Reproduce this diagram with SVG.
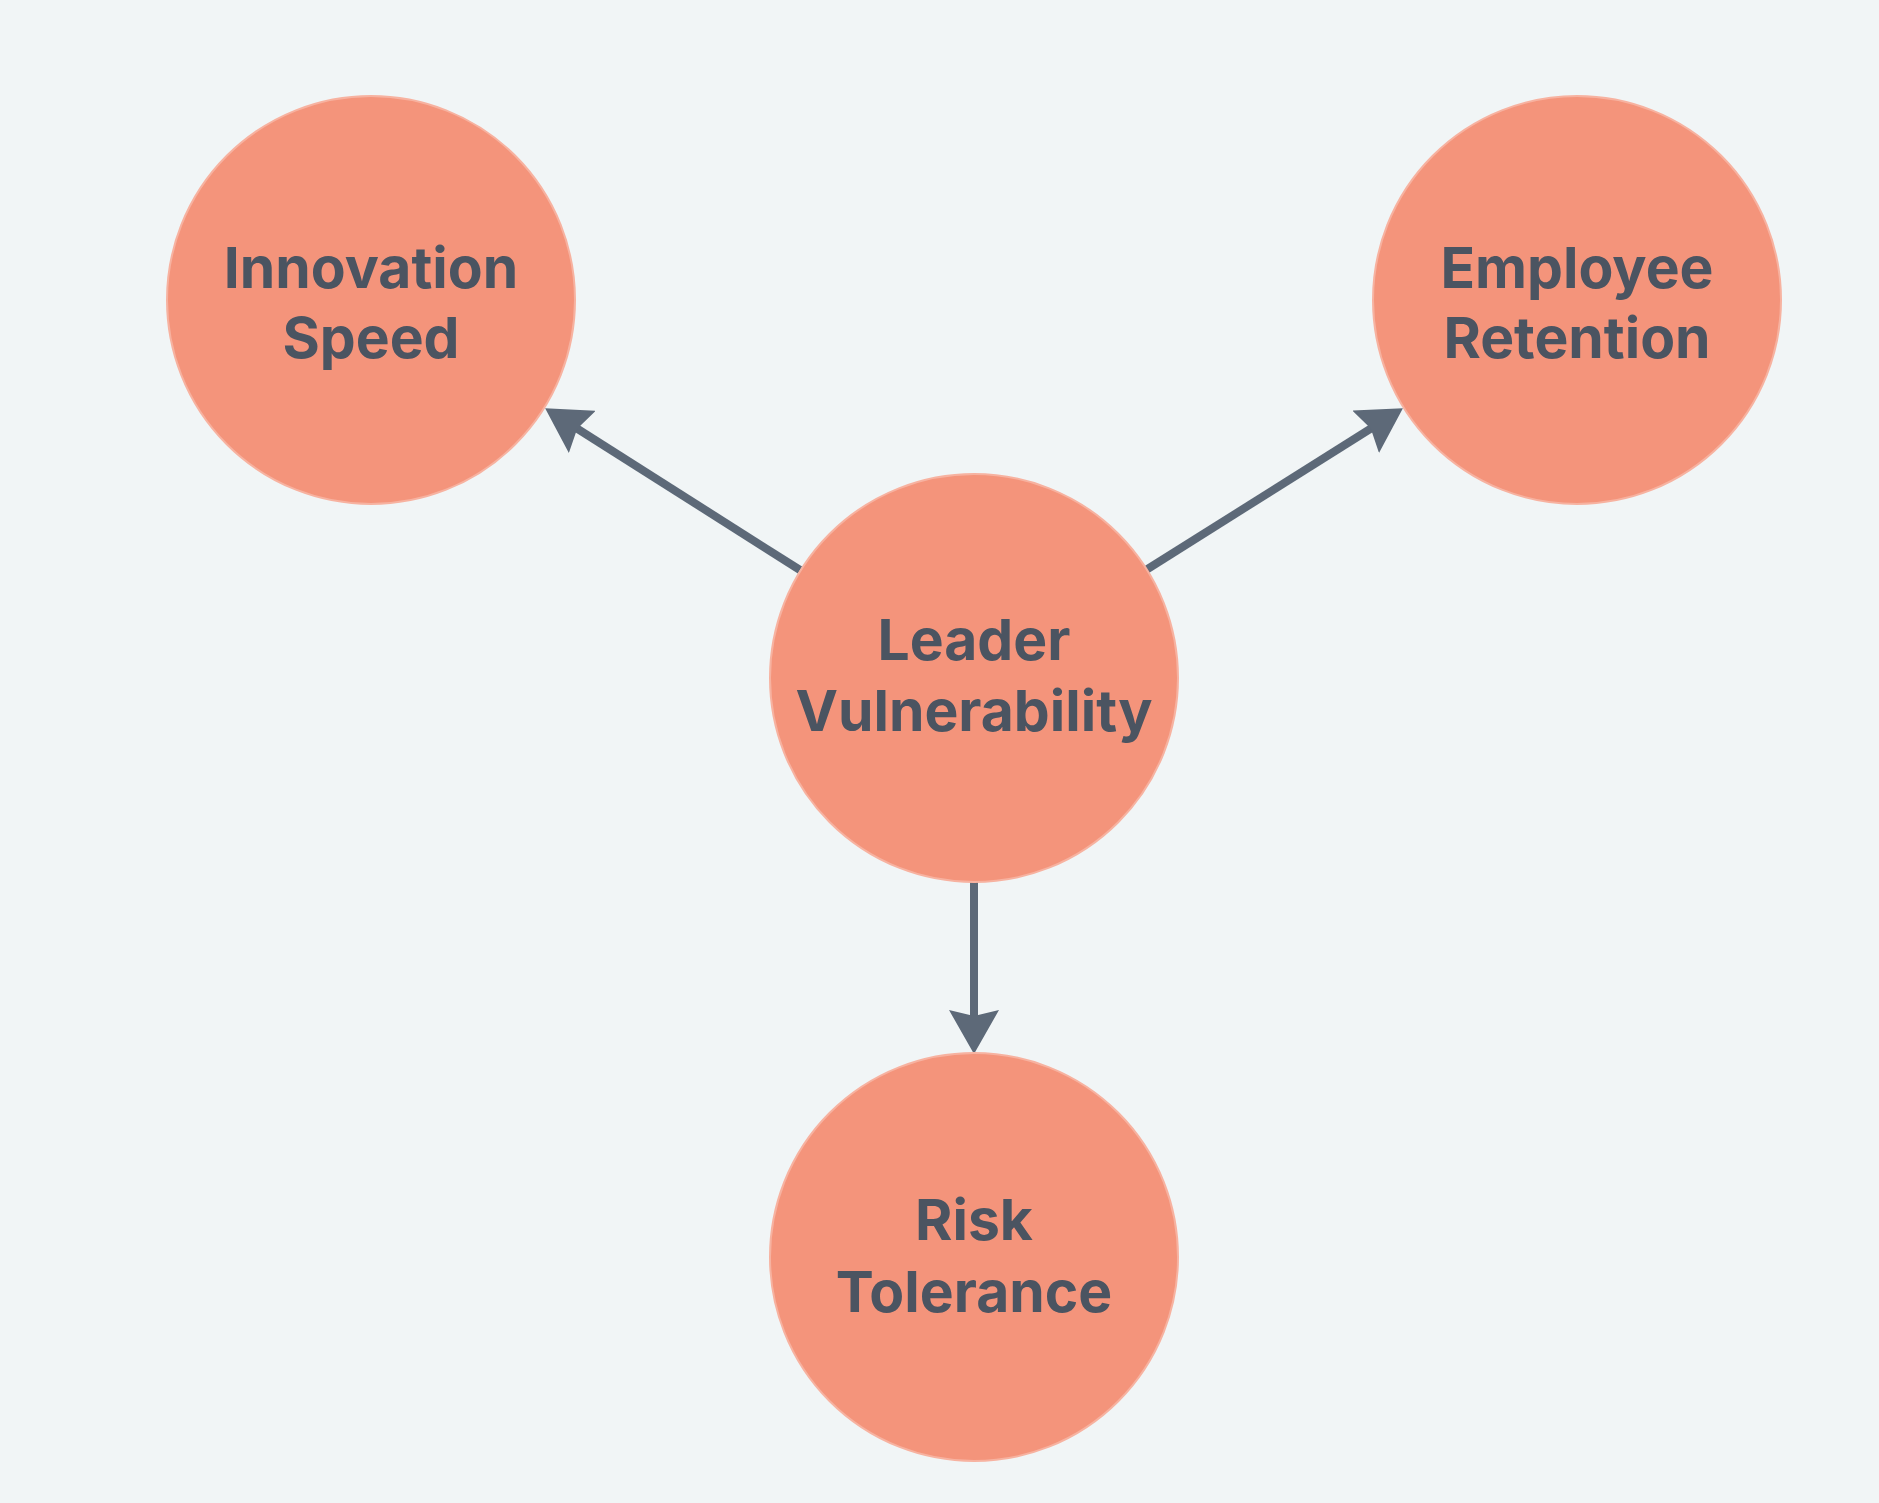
<svg xmlns="http://www.w3.org/2000/svg" width="1879" height="1503" viewBox="0 0 1879 1503">
<style>
.node{fill:#f4947b;stroke:#f7b2a0;stroke-width:2}
.lbl{font-family:Inter,"Liberation Sans",sans-serif;font-weight:700;font-size:57px;fill:#4b5461;text-anchor:middle}
.edge{stroke:#5d6978;stroke-width:8;fill:none;marker-end:url(#ah)}
</style>
<defs>
<marker id="ah" markerUnits="userSpaceOnUse" viewBox="0 0 44 50" refX="24" refY="25" markerWidth="44" markerHeight="50" orient="auto">
<path d="M0,0 L44,25 L0,50 L6,25 Z" fill="#5d6978"/>
</marker>
</defs>
<rect width="1879" height="1503" fill="#f1f5f6"/>
<g id="connectors">
<line class="edge" x1="800" y1="570" x2="562" y2="419"/>
<line class="edge" x1="1146" y1="570" x2="1386" y2="419"/>
<line class="edge" x1="974" y1="882" x2="974" y2="1034"/>
</g>
<g id="innovation-speed">
<circle class="node" cx="371" cy="300" r="204"/>
<text class="lbl" x="371" y="288">Innovation</text>
<text class="lbl" x="371" y="358">Speed</text>
</g>
<g id="employee-retention">
<circle class="node" cx="1577" cy="300" r="204"/>
<text class="lbl" x="1577" y="288">Employee</text>
<text class="lbl" x="1577" y="358">Retention</text>
</g>
<g id="leader-vulnerability">
<circle class="node" cx="974" cy="678" r="204"/>
<text class="lbl" x="974" y="660">Leader</text>
<text class="lbl" x="974" y="731">Vulnerability</text>
</g>
<g id="risk-tolerance">
<circle class="node" cx="974" cy="1257" r="204"/>
<text class="lbl" x="974" y="1240">Risk</text>
<text class="lbl" x="974" y="1312">Tolerance</text>
</g>
</svg>
